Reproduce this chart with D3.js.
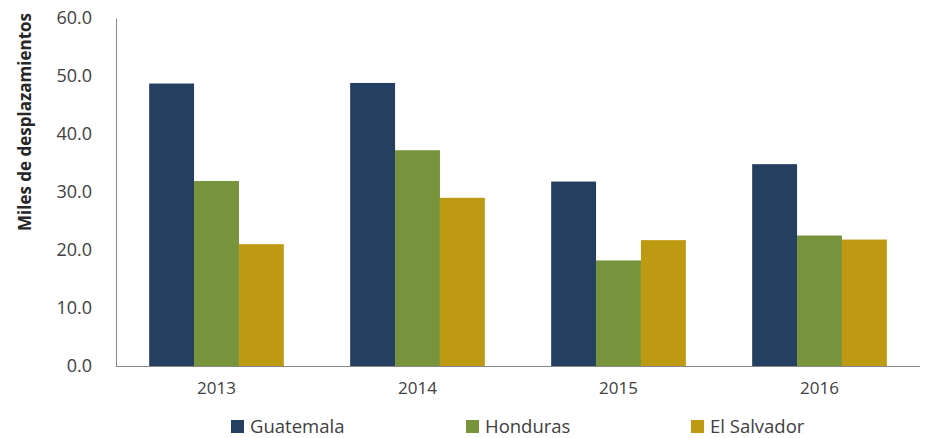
<!DOCTYPE html>
<html><head><meta charset="utf-8">
<script src="https://cdn.jsdelivr.net/npm/d3@7"></script>
<style>body{margin:0;background:#fff}svg{display:block}</style>
</head><body><svg id="c" width="926" height="438"></svg>
<script>
const years = ["2013","2014","2015","2016"];
const seriesNames = ["Guatemala","Honduras","El Salvador"];
const guatemala = [48.7, 48.8, 31.8, 34.8];
const honduras = [31.9, 37.2, 18.2, 22.5];
const elSalvador = [21.0, 29.0, 21.7, 21.8];
const yTicks = [0,10,20,30,40,50,60];
const colors = ["#243F60","#77933C","#BE9912"];
const allSeries = [guatemala, honduras, elSalvador];

(function(){
const svg = d3.select("#c");
const font = "'Open Sans', sans-serif";
const mLeft = 116, mRight = 920, mTop = 18, mBottom = 366;
const x = d3.scaleBand().domain(years).range([mLeft,mRight]).paddingInner(0.33).paddingOuter(0.165);
const x1 = d3.scaleBand().domain(seriesNames).range([0,x.bandwidth()]);
const y = d3.scaleLinear().domain([0,60]).range([mBottom,mTop]);

years.forEach((yr,i)=>{
  allSeries.forEach((s,j)=>{
    svg.append("rect")
      .attr("x", x(yr)+x1(seriesNames[j]))
      .attr("y", y(s[i]))
      .attr("width", x1.bandwidth())
      .attr("height", y(0)-y(s[i]))
      .attr("fill", colors[j]);
  });
});

const ya = svg.append("g").attr("transform",`translate(${mLeft},0)`)
  .call(d3.axisLeft(y).tickValues(yTicks).tickFormat(d3.format(".1f")).tickSize(0).tickPadding(24));
ya.select(".domain").attr("stroke","#888");
ya.selectAll("text").attr("font-family",font).attr("font-size",18).attr("fill","#404040");

const xa = svg.append("g").attr("transform",`translate(0,${mBottom})`)
  .call(d3.axisBottom(x).tickSize(0).tickPadding(16));
xa.select(".domain").attr("stroke","#888").attr("d",`M${mLeft},0.5H${mRight}`);
xa.selectAll("text").attr("font-family",font).attr("font-size",17).attr("fill","#404040");

svg.append("text").attr("transform","translate(31,122) rotate(-90)")
  .attr("text-anchor","middle").attr("font-family",font).attr("font-weight","bold")
  .attr("font-size",17).attr("fill","#262626").text("Miles de desplazamientos");

const legX = [231, 466, 691];
seriesNames.forEach((n,j)=>{
  svg.append("rect").attr("x",legX[j]).attr("y",420).attr("width",13).attr("height",13).attr("fill",colors[j]);
  svg.append("text").attr("x",legX[j]+19).attr("y",433).attr("font-family",font)
    .attr("font-size",18.5).attr("fill","#404040").text(n);
});
})();
</script></body></html>
